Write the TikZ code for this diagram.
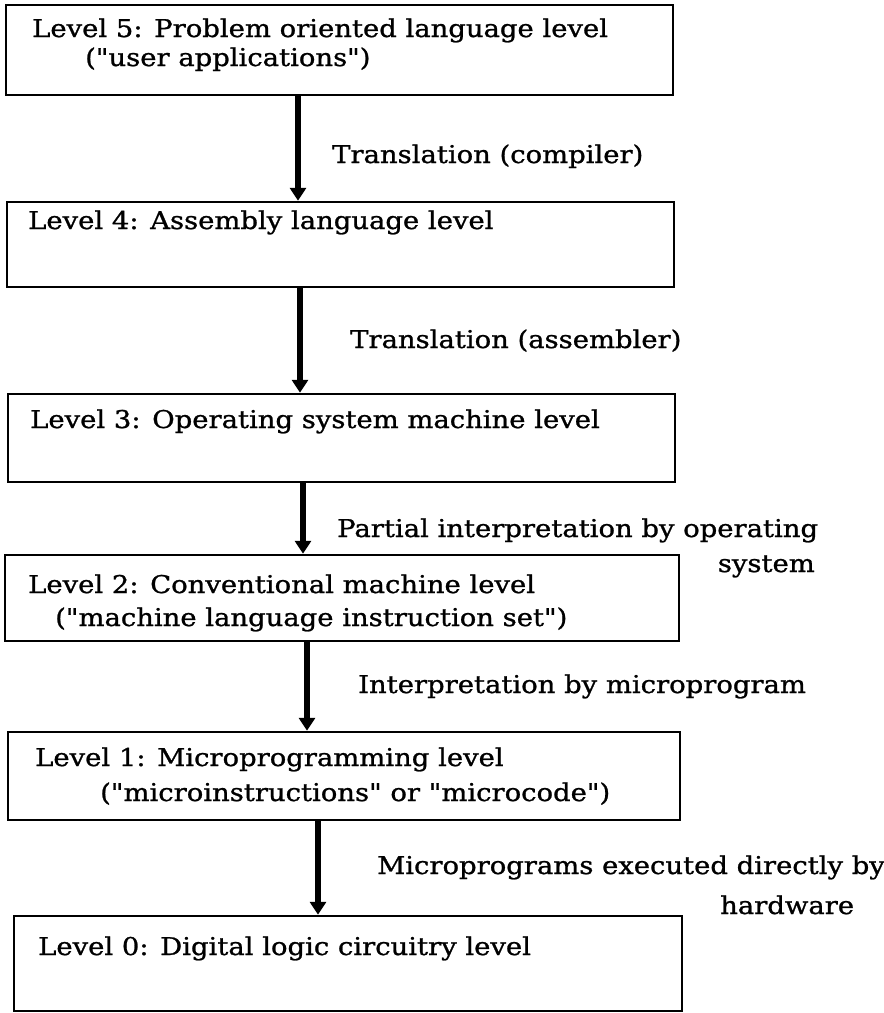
\documentclass[tikz,border=0pt]{standalone}
\usepackage{fontspec}
\setmainfont{DejaVu Serif}[FakeStretch=1.12, FakeBold=1, Ligatures=TeXOff]
\usetikzlibrary{arrows.meta,fit}

\begin{document}
\begin{tikzpicture}[x=1pt, y=-1pt, font=\fontsize{24.5}{29}\selectfont,
        >={Triangle[width=16pt,length=13pt]},
        livello/.style={draw, line width=2.5pt, inner sep=0pt},
        testo/.style={anchor=base west, inner sep=0pt},
        freccia/.style={->, line width=6pt}]
        % Cornice
        \useasboundingbox (0,0) rectangle (884,1013);

        % Riquadri dei livelli
        \node[livello, fit={(6,5) (673,95)}] (l5) {};
        \node[livello, fit={(7,202) (674,287)}] (l4) {};
        \node[livello, fit={(8,394) (675,482)}] (l3) {};
        \node[livello, fit={(5,555) (679,641)}] (l2) {};
        \node[livello, fit={(8,732) (680,820)}] (l1) {};
        \node[livello, fit={(14,916) (682,1011)}] (l0) {};

        % Testi nei riquadri
        \node[testo] (t5) at (32,37) {Level 5: Problem oriented language level};
        \node[testo] (t5b) at (85,66) {("user applications")};
        \node[testo] (t4) at (28,229) {Level 4: Assembly language level};
        \node[testo] (t3) at (30,428) {Level 3: Operating system machine level};
        \node[testo] (t2) at (28,593) {Level 2: Conventional machine level};
        \node[testo] (t2b) at (55,626) {("machine language instruction set")};
        \node[testo] (t1) at (35,766) {Level 1: Microprogramming level};
        \node[testo] (t1b) at (100,801) {("microinstructions" or "microcode")};
        \node[testo] (t0) at (38,955) {Level 0: Digital logic circuitry level};

        % Frecce tra i livelli
        \foreach \sopra/\sotto/\xf in {l5/l4/298, l4/l3/300, l3/l2/303, l2/l1/307, l1/l0/318} {
            \coordinate (f) at (\xf,0);
            \draw[freccia] (\sopra.south -| f) -- (\sotto.north -| f);
        }

        % Etichette delle frecce
        \node[testo] (e5) at (332,163) {Translation (compiler)};
        \node[testo] (e4) at (350,348) {Translation (assembler)};
        \node[testo] (e3) at (337,537) {Partial interpretation by operating};
        \node[testo, anchor=base east] (e3b) at (815,572) {system};
        \node[testo] (e2) at (358,693) {Interpretation by microprogram};
        \node[testo] (e1) at (377,874) {Microprograms executed directly by};
        \node[testo] (e1b) at (720,914) {hardware};
    \end{tikzpicture}
\end{document}
